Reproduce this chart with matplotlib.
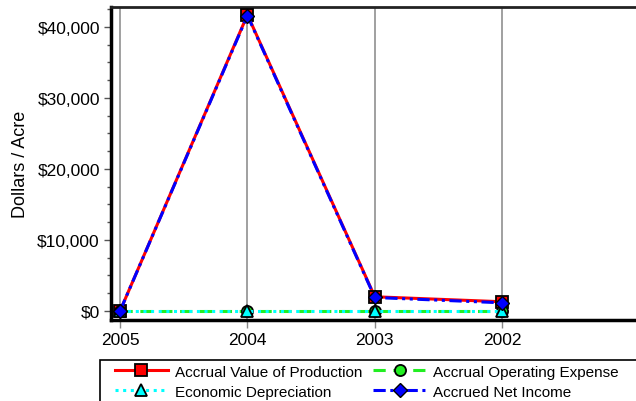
import matplotlib.pyplot as plt
import numpy as np
from matplotlib.ticker import MultipleLocator, FuncFormatter
from matplotlib.patches import Rectangle

plt.rcParams['font.family'] = ['Liberation Sans', 'DejaVu Sans']

# data (dollars per acre)
years = ['2005', '2004', '2003', '2002']
value_of_production = [0, 41700, 2000, 1300]
operating_expense = [0, 0, 0, 0]
depreciation = [0, 0, 0, 0]
net_income = [0, 41600, 1900, 1150]

x = np.arange(len(years))

fig = plt.figure(figsize=(6.36, 4.02), dpi=100)
ax = fig.add_axes([111/636, 1 - 321/402, 1 - 111/636, (321 - 8)/402])

l1, = ax.plot(x, value_of_production, color='red', lw=2.2, ls='-',
              marker='s', ms=9, mfc='red', mec='black', mew=1.3,
              label='Accrual Value of Production', zorder=3)
l2, = ax.plot(x, operating_expense, color='#22ee22', lw=2.2, ls=(0, (4, 2.5)),
              marker='o', ms=8, mfc='#22ee22', mec='black', mew=1.3,
              label='Accrual Operating Expense', zorder=3)
l3, = ax.plot(x, depreciation, color='cyan', lw=2.2, ls=(0, (1, 1.5)),
              marker='^', ms=9, mfc='cyan', mec='black', mew=1.3,
              label='Economic Depreciation', zorder=4)
l4, = ax.plot(x, net_income, color='blue', lw=2.2, ls=(0, (4, 1.5, 1, 1.5, 1, 1.5)),
              marker='D', ms=7.5, mfc='blue', mec='black', mew=1.0,
              label='Accrued Net Income', zorder=5)

ax.set_xlim(-0.071, 4.05)
ax.set_ylim(-1270, 42800)
ax.set_xticks(x)
ax.set_xticklabels(years, fontsize=12.5)
ax.yaxis.set_major_locator(MultipleLocator(10000))
ax.yaxis.set_minor_locator(MultipleLocator(2500))
ax.yaxis.set_major_formatter(FuncFormatter(lambda v, p: '${:,.0f}'.format(v)))
ax.tick_params(axis='y', labelsize=12.5, length=5, width=1, color='#555555', pad=3)
ax.tick_params(axis='y', which='minor', length=3, width=1, color='#555555')
ax.tick_params(axis='x', length=6, width=1, color='#888888', pad=3)
ax.set_ylabel('Dollars / Acre', fontsize=13)
ax.yaxis.set_label_coords(-82/525, 0.5)

ax.grid(axis='x', color='#999999', lw=1.3)
ax.set_axisbelow(True)
ax.spines['left'].set_linewidth(2.5)
ax.spines['bottom'].set_linewidth(2.5)
ax.spines['top'].set_linewidth(2)
ax.spines['top'].set_color('#222222')
ax.spines['right'].set_visible(False)

# legend fills row by row: production, opex / depreciation, net income
leg = fig.legend([l1, l3, l2, l4], [l.get_label() for l in (l1, l3, l2, l4)],
                 loc='upper left', bbox_to_anchor=(104/636, 1 - 355/402),
                 ncol=2, fontsize=11, frameon=False, borderpad=0.2,
                 handlelength=3.5, columnspacing=0.7, labelspacing=0.4,
                 handletextpad=0.45)
fig.patches.append(Rectangle((100/636, -0.01), 0.9, (402 - 361)/402 + 0.01,
                             transform=fig.transFigure, fill=False,
                             edgecolor='black', lw=1.2))

fig.savefig('out.png', dpi=100)
